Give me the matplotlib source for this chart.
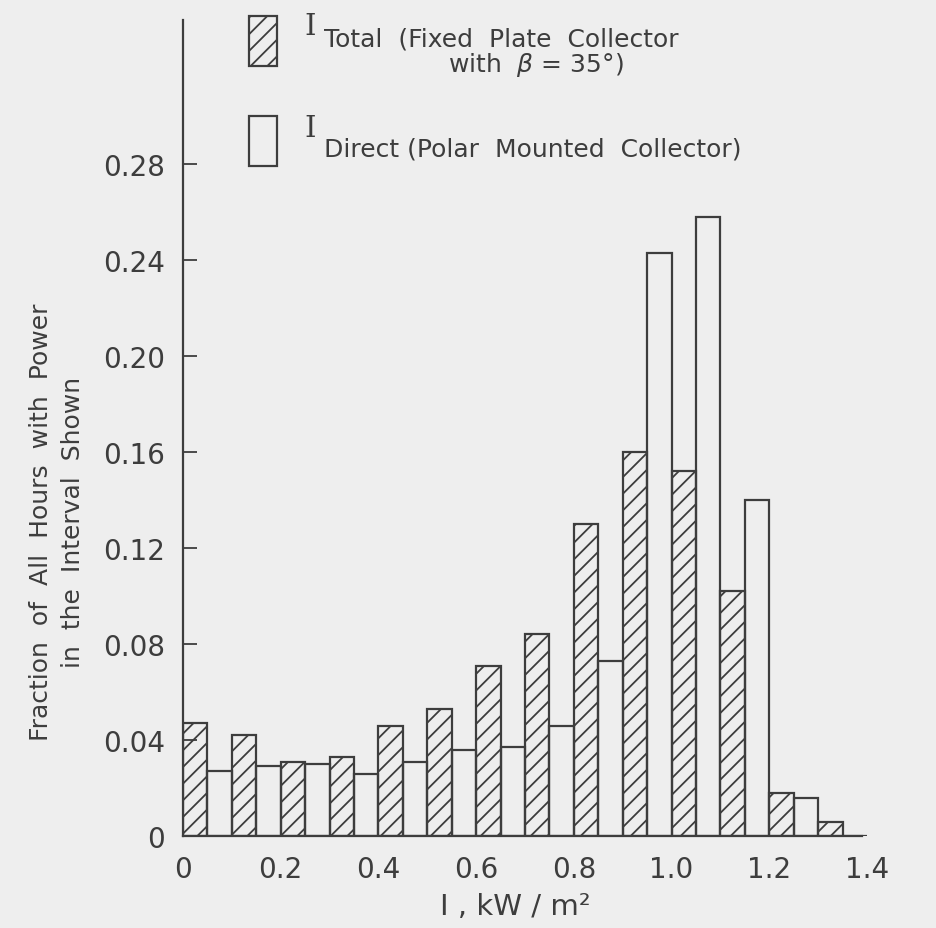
import matplotlib.pyplot as plt
from matplotlib.patches import Rectangle
import numpy as np

# lower edge of each 0.1 kW/m2 interval
interval_start = [0.0, 0.1, 0.2, 0.3, 0.4, 0.5, 0.6, 0.7, 0.8, 0.9, 1.0, 1.1, 1.2, 1.3]
# fraction of hours, fixed plate collector (beta = 35 deg), total radiation
total_fixed = [0.047, 0.042, 0.031, 0.033, 0.046, 0.053, 0.071, 0.084,
               0.130, 0.160, 0.152, 0.102, 0.018, 0.006]
# fraction of hours, polar mounted collector, direct radiation
direct_polar = [0.027, 0.029, 0.030, 0.026, 0.031, 0.036, 0.037, 0.046,
                0.073, 0.243, 0.258, 0.140, 0.016, 0.0]

y_ticks = [0, 0.04, 0.08, 0.12, 0.16, 0.20, 0.24, 0.28]
y_tick_labels = ['0', '0.04', '0.08', '0.12', '0.16', '0.20', '0.24', '0.28']
x_ticks = [0, 0.2, 0.4, 0.6, 0.8, 1.0, 1.2, 1.4]
x_tick_labels = ['0', '0.2', '0.4', '0.6', '0.8', '1.0', '1.2', '1.4']

ink = '#3d3d3d'
paper = '#eeeeee'
plt.rcParams['font.family'] = ['DejaVu Sans']
plt.rcParams['hatch.color'] = ink
plt.rcParams['hatch.linewidth'] = 1.3

fig = plt.figure(figsize=(9.36, 9.29), dpi=100, facecolor=paper)
W, H = 936, 929
ax = fig.add_axes([183 / W, 1 - 837 / H, (1.42 * 488.6) / W, (0.34 * 2400) / H])
ax.set_facecolor(paper)

bar_w = 0.05
starts = np.array(interval_start)
ax.bar(starts, total_fixed, width=bar_w, align='edge', facecolor='none',
       edgecolor=ink, linewidth=1.6, hatch='//', zorder=3)
ax.bar(starts + bar_w, direct_polar, width=bar_w, align='edge', facecolor='none',
       edgecolor=ink, linewidth=1.6, zorder=3)

ax.set_xlim(0, 1.42)
ax.set_ylim(0, 0.34)
for s in ['top', 'right']:
    ax.spines[s].set_visible(False)
for s in ['left', 'bottom']:
    ax.spines[s].set_color(ink)
    ax.spines[s].set_linewidth(1.6)
ax.spines['bottom'].set_bounds(0, 1.39)

ax.set_yticks(y_ticks)
ax.set_yticklabels(y_tick_labels)
ax.set_xticks(x_ticks)
ax.set_xticklabels(x_tick_labels)
ax.tick_params(axis='y', direction='in', length=10, width=1.3, color=ink,
               labelsize=20, labelcolor=ink, pad=13)
ax.tick_params(axis='x', length=0, labelsize=20, labelcolor=ink, pad=14)

fig.text(515 / W, 1 - 915 / H, 'I , kW / m\u00b2', fontsize=21, color=ink,
         ha='center', va='baseline')

fig.text(57 / W, 1 - 522 / H, 'Fraction  of  All  Hours  with  Power\nin  the  Interval  Shown',
         rotation=90, ha='center', va='center', multialignment='center',
         fontsize=18, color=ink, linespacing=1.4)

# legend
fig.patches.append(Rectangle((249 / W, 1 - 67 / H), 28 / W, 50 / H, transform=fig.transFigure,
                             facecolor='none', edgecolor=ink, linewidth=1.6, hatch='//'))
fig.patches.append(Rectangle((249 / W, 1 - 167 / H), 28 / W, 50 / H, transform=fig.transFigure,
                             facecolor='none', edgecolor=ink, linewidth=1.6))
fig.text(304 / W, 1 - 35 / H, 'I', family='DejaVu Serif', fontsize=21, color=ink,
         va='baseline')
fig.text(324 / W, 1 - 46 / H, 'Total  (Fixed  Plate  Collector', fontsize=18, color=ink,
         va='baseline')
fig.text(536 / W, 1 - 72 / H, 'with  $\\beta$ = 35\u00b0)', fontsize=18, color=ink,
         va='baseline', ha='center')
fig.text(304 / W, 1 - 137 / H, 'I', family='DejaVu Serif', fontsize=21, color=ink,
         va='baseline')
fig.text(324 / W, 1 - 156 / H, 'Direct (Polar  Mounted  Collector)', fontsize=18, color=ink,
         va='baseline')

fig.savefig('out.png', dpi=100, facecolor=paper)
